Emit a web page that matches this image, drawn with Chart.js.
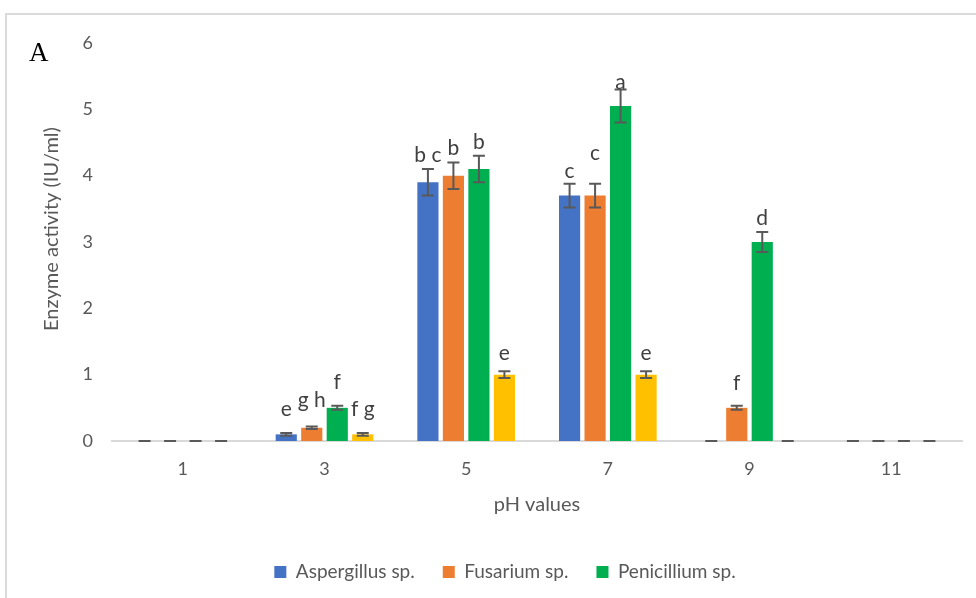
<!DOCTYPE html>
<html>
<head>
<meta charset="utf-8">
<script src="https://cdn.jsdelivr.net/npm/chart.js@4.4.0/dist/chart.umd.min.js"></script>
<style>
  html, body { margin: 0; padding: 0; background: #ffffff; }
  #wrap { position: relative; width: 976px; height: 598px; overflow: hidden; }
</style>
</head>
<body>
<div id="wrap"><canvas id="chart" width="976" height="598"></canvas></div>
<script>
// pH categories on the x axis
const phValues = ['1', '3', '5', '7', '9', '11'];

// Mean enzyme activity (IU/ml) per strain
const aspergillus = [0, 0.1, 3.9, 3.7, 0, 0];
const fusarium    = [0, 0.2, 4.0, 3.7, 0.5, 0];
const penicillium = [0, 0.5, 4.1, 5.05, 3.0, 0];
const series4     = [0, 0.1, 1.0, 1.0, 0, 0];

// Standard errors
const aspergillusErr = [0, 0.02, 0.2, 0.18, 0, 0];
const fusariumErr    = [0, 0.02, 0.2, 0.18, 0.03, 0];
const penicilliumErr = [0, 0.03, 0.2, 0.25, 0.15, 0];
const series4Err     = [0, 0.02, 0.05, 0.05, 0, 0];

// Significance letters
const aspergillusLetters = ['', 'e', 'b c', 'c', '', ''];
const fusariumLetters    = ['', 'g h', 'b', 'c', 'f', ''];
const penicilliumLetters = ['', 'f', 'b', 'a', 'd', ''];
const series4Letters     = ['', 'f g', 'e', 'e', '', ''];

const yTicks = [0, 1, 2, 3, 4, 5, 6];

const FONT = 'Lato, "Open Sans", sans-serif';
const TEXT_GREY = '#595959';

// distance (px) from the top of each error bar to the centre of its letter
const letterLift = [
  [0, 24, 14, 12, 0, 0],
  [0, 26, 14, 30, 23, 0],
  [0, 24, 14, 7, 14, 0],
  [0, 24, 18, 18, 0, 0]
];

const errorBarsPlugin = {
  id: 'errorBarsAndLetters',
  afterDatasetsDraw(chart) {
    const ctx = chart.ctx;
    const y = chart.scales.y;
    ctx.save();
    chart.data.datasets.forEach((ds, di) => {
      const meta = chart.getDatasetMeta(di);
      meta.data.forEach((bar, i) => {
        const v = ds.data[i];
        const e = ds.errors[i];
        const yTop = y.getPixelForValue(v + e);
        const yBot = y.getPixelForValue(Math.max(0, v - e));
        const x = bar.x;
        const cap = 6;
        ctx.strokeStyle = '#595959';
        ctx.lineWidth = 2;
        ctx.beginPath();
        ctx.moveTo(x, yTop); ctx.lineTo(x, yBot);
        ctx.moveTo(x - cap, yTop); ctx.lineTo(x + cap, yTop);
        ctx.moveTo(x - cap, yBot); ctx.lineTo(x + cap, yBot);
        ctx.stroke();
        const letter = ds.letters[i];
        if (letter) {
          ctx.fillStyle = '#404040';
          ctx.font = '21px ' + FONT;
          ctx.textAlign = 'center';
          ctx.textBaseline = 'middle';
          ctx.fillText(letter, x, yTop - letterLift[di][i]);
        }
      });
    });
    ctx.restore();
  }
};

const framePlugin = {
  id: 'frame',
  beforeDraw(chart) {
    const ctx = chart.ctx;
    ctx.save();
    ctx.fillStyle = '#ffffff';
    ctx.fillRect(0, 0, chart.width, chart.height);
    ctx.strokeStyle = '#dadada';
    ctx.lineWidth = 2;
    ctx.beginPath();
    ctx.moveTo(6, chart.height + 5);
    ctx.lineTo(6, 14);
    ctx.lineTo(chart.width + 5, 14);
    ctx.stroke();
    ctx.fillStyle = '#000000';
    ctx.font = '27px "Liberation Serif", "DejaVu Serif", serif';
    ctx.textAlign = 'left';
    ctx.textBaseline = 'alphabetic';
    ctx.fillText('A', 29, 61);
    ctx.restore();
  },
  afterDraw(chart) {
    // vertical axis title, centred a little above the middle of the plot
    const ctx = chart.ctx;
    ctx.save();
    ctx.translate(52, 229);
    ctx.rotate(-Math.PI / 2);
    ctx.fillStyle = TEXT_GREY;
    ctx.font = '20px ' + FONT;
    ctx.textAlign = 'center';
    ctx.textBaseline = 'middle';
    ctx.fillText('Enzyme activity (IU/ml)', 0, 0);
    ctx.restore();
  }
};

new Chart(document.getElementById('chart'), {
  type: 'bar',
  data: {
    labels: phValues,
    datasets: [
      { label: 'Aspergillus sp.', data: aspergillus, errors: aspergillusErr, letters: aspergillusLetters, backgroundColor: '#4472C4' },
      { label: 'Fusarium sp.', data: fusarium, errors: fusariumErr, letters: fusariumLetters, backgroundColor: '#ED7D31' },
      { label: 'Penicillium sp.', data: penicillium, errors: penicilliumErr, letters: penicilliumLetters, backgroundColor: '#00B050' },
      { label: 'Series 4', data: series4, errors: series4Err, letters: series4Letters, backgroundColor: '#FFC000' }
    ]
  },
  options: {
    responsive: false,
    animation: false,
    categoryPercentage: 0.72,
    barPercentage: 0.83,
    layout: { padding: { top: 43, right: 14, bottom: 6.5, left: 48 } },
    plugins: {
      tooltip: { enabled: false },
      legend: {
        position: 'bottom',
        labels: {
          filter: (item) => item.datasetIndex < 3,
          color: TEXT_GREY,
          font: { family: FONT, size: 19 },
          boxWidth: 12,
          boxHeight: 12,
          padding: 28
        }
      }
    },
    scales: {
      x: {
        grid: { display: false, drawTicks: false },
        border: { display: true, color: '#d9d9d9', width: 2 },
        ticks: { color: TEXT_GREY, font: { family: FONT, size: 18 }, padding: 17 },
        title: { display: true, text: 'pH values', color: TEXT_GREY, font: { family: FONT, size: 20 }, padding: { top: 0, bottom: 17.5 } },
        afterFit: (s) => { s.height = 93.5; }
      },
      y: {
        min: 0, max: 6,
        afterBuildTicks: (s) => { s.ticks = yTicks.map(v => ({ value: v })); },
        grid: { display: false, drawTicks: false },
        border: { display: false },
        ticks: { color: TEXT_GREY, font: { family: FONT, size: 18 }, padding: 19 },
        afterFit: (s) => { s.width = 64; }
      }
    }
  },
  plugins: [framePlugin, errorBarsPlugin]
});
</script>
</body>
</html>
